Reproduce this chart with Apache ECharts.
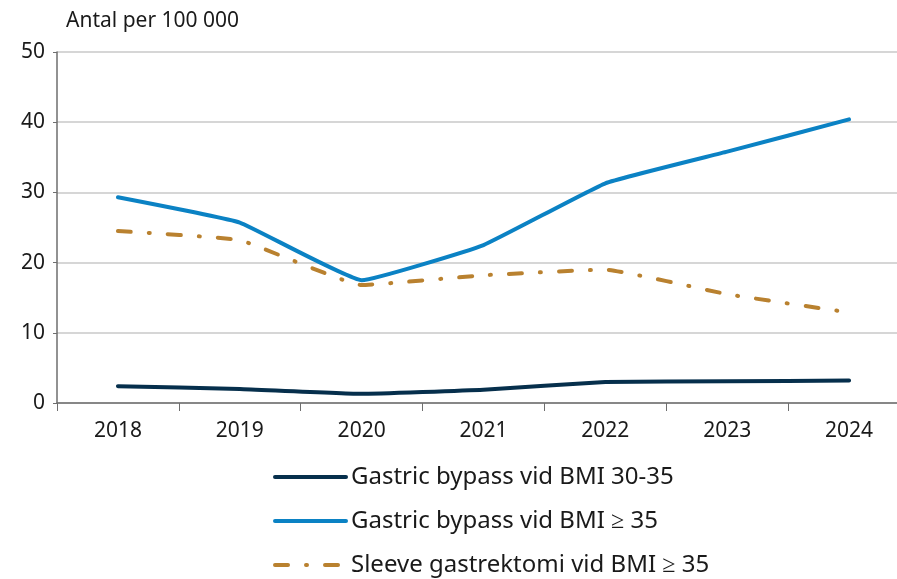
<!DOCTYPE html>
<html>
<head>
<meta charset="utf-8">
<script src="https://cdn.jsdelivr.net/npm/echarts@6/dist/echarts.min.js"></script>
<style>
  html, body { margin: 0; padding: 0; background: #fff; }
  #chart { width: 897px; height: 579px; }
</style>
</head>
<body>
<div id="chart"></div>
<script>
const years = ['2018', '2019', '2020', '2021', '2022', '2023', '2024']
const bypass3035 = [2.4, 2.0, 1.3, 1.9, 3.0, 3.1, 3.2]
const bypass35 = [29.3, 25.7, 17.5, 22.5, 31.3, 35.8, 40.4]
const sleeve35 = [24.5, 23.2, 16.8, 18.2, 19.0, 15.5, 12.9]
const seriesNames = [
  'Gastric bypass vid BMI 30-35',
  'Gastric bypass vid BMI \u2265 35',
  'Sleeve gastrektomi vid BMI \u2265 35'
]

const font = 'Noto Sans'
const textColor = '#1a1a1a'

const chart = echarts.init(document.getElementById('chart'))

const lineSeries = (name, data, color, type) => ({
  name,
  type: 'line',
  data,
  smooth: 0.1,
  symbol: 'none',
  lineStyle: { color, width: 4, type, cap: 'round', join: 'round' },
  itemStyle: { color }
})

chart.setOption({
  animation: false,
  backgroundColor: '#fff',
  title: {
    text: 'Antal per 100 000',
    left: 66,
    top: 11,
    padding: 0,
    textStyle: { color: textColor, fontSize: 21, fontWeight: 'normal', fontFamily: font }
  },
  // plot runs a little past the right edge of the picture
  grid: { left: 57, width: 853, top: 52, bottom: 176, outerBoundsMode: 'none' },
  legend: {
    orient: 'vertical',
    left: 273,
    top: 465,
    padding: 0,
    itemWidth: 71,
    itemHeight: 24,
    itemGap: 20,
    itemStyle: { color: 'transparent', borderWidth: 0 },
    lineStyle: { width: 4, cap: 'round' },
    textStyle: { color: textColor, fontSize: 24, fontFamily: font, lineHeight: 24 },
    data: seriesNames
  },
  xAxis: {
    type: 'category',
    data: years,
    boundaryGap: true,
    axisLine: { lineStyle: { color: '#6e6e6e', width: 1.5 } },
    axisTick: { show: true, length: 8, lineStyle: { color: '#6e6e6e' } },
    axisLabel: { color: textColor, fontSize: 21, fontFamily: font, margin: 18 },
    splitLine: { show: false }
  },
  yAxis: {
    type: 'value',
    min: 0,
    max: 50,
    interval: 10,
    axisLine: { show: true, lineStyle: { color: '#6e6e6e', width: 1.5 } },
    axisTick: { show: true, length: 4, lineStyle: { color: '#6e6e6e' } },
    axisLabel: { color: textColor, fontSize: 21, fontFamily: font, margin: 12 },
    splitLine: { show: true, lineStyle: { color: '#c8c8c8', width: 1.5 } }
  },
  series: [
    lineSeries(seriesNames[0], bypass3035, '#062f4c', 'solid'),
    lineSeries(seriesNames[1], bypass35, '#0b82c4', 'solid'),
    lineSeries(seriesNames[2], sleeve35, '#b9812f', [13, 18, 1, 18])
  ]
})
</script>
</body>
</html>
